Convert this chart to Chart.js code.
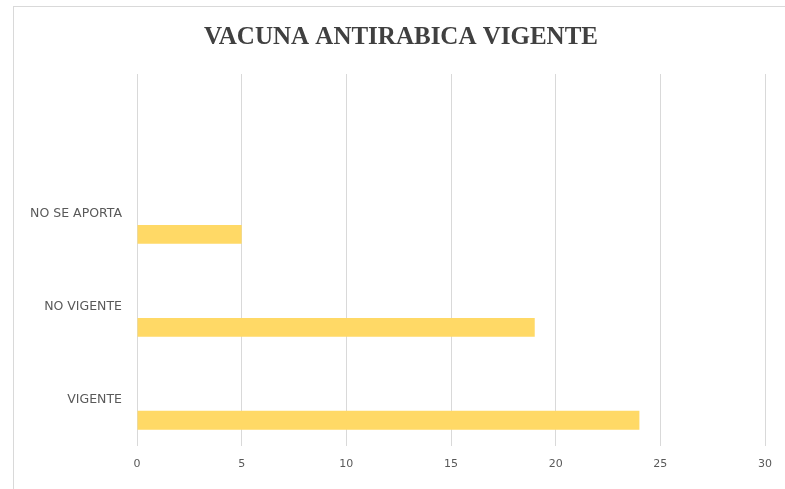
<!DOCTYPE html>
<html>
<head>
<meta charset="utf-8">
<script src="https://cdn.jsdelivr.net/npm/chart.js@4/dist/chart.umd.min.js"></script>
<style>
  html, body { margin: 0; padding: 0; background: #ffffff; }
  #wrap { position: relative; width: 785px; height: 489px; }
</style>
</head>
<body>
<div id="wrap"><canvas id="c" width="785" height="489"></canvas></div>
<script>
// Data
const categories = ["", "NO SE APORTA", "NO VIGENTE", "VIGENTE"];
const emptySeries = [null, null, null, null];
const values = [null, 5, 19, 24];
const xTicks = [0, 5, 10, 15, 20, 25, 30];
const chartTitle = "VACUNA ANTIRABICA VIGENTE";

const framePlugin = {
  id: 'frame',
  beforeDraw(chart) {
    const ctx = chart.ctx;
    ctx.save();
    ctx.fillStyle = '#ffffff';
    ctx.fillRect(0, 0, chart.width, chart.height);
    ctx.strokeStyle = '#d9d9d9';
    ctx.lineWidth = 1;
    ctx.strokeRect(13.5, 6.5, 800, 500);
    ctx.restore();
  },
  afterDraw(chart) {
    const ctx = chart.ctx;
    ctx.save();
    ctx.fillStyle = '#404040';
    ctx.font = 'bold 25px "Liberation Serif"';
    ctx.textAlign = 'center';
    ctx.textBaseline = 'middle';
    ctx.fillText(chartTitle, 401, 38);
    ctx.restore();
  }
};

new Chart(document.getElementById('c'), {
  type: 'bar',
  data: {
    labels: categories,
    datasets: [
      { label: 'empty', data: emptySeries, backgroundColor: '#FFD966' },
      { label: 'Total', data: values, backgroundColor: '#FFD966', borderWidth: 0 }
    ]
  },
  options: {
    indexAxis: 'y',
    responsive: false,
    animation: false,
    categoryPercentage: 0.9,
    barPercentage: 0.45,
    layout: { padding: { left: 0, right: 20, top: 74, bottom: 6 } },
    plugins: {
      legend: { display: false },
      tooltip: { enabled: false },
      title: { display: false }
    },
    scales: {
      x: {
        min: 0,
        max: 30,
        afterBuildTicks(scale) { scale.ticks = xTicks.map(v => ({ value: v })); },
        grid: { color: '#d9d9d9', lineWidth: 1, drawTicks: false },
        border: { display: false },
        ticks: {
          color: '#595959',
          padding: 12,
          font: { family: 'DejaVu Sans', size: 11 }
        }
      },
      y: {
        grid: { display: false, drawTicks: false },
        border: { display: false },
        afterFit(scale) { scale.width = 137; },
        ticks: {
          color: '#595959',
          padding: 15,
          font: { family: 'DejaVu Sans', size: 12.5 }
        }
      }
    }
  },
  plugins: [framePlugin]
});
</script>
</body>
</html>
